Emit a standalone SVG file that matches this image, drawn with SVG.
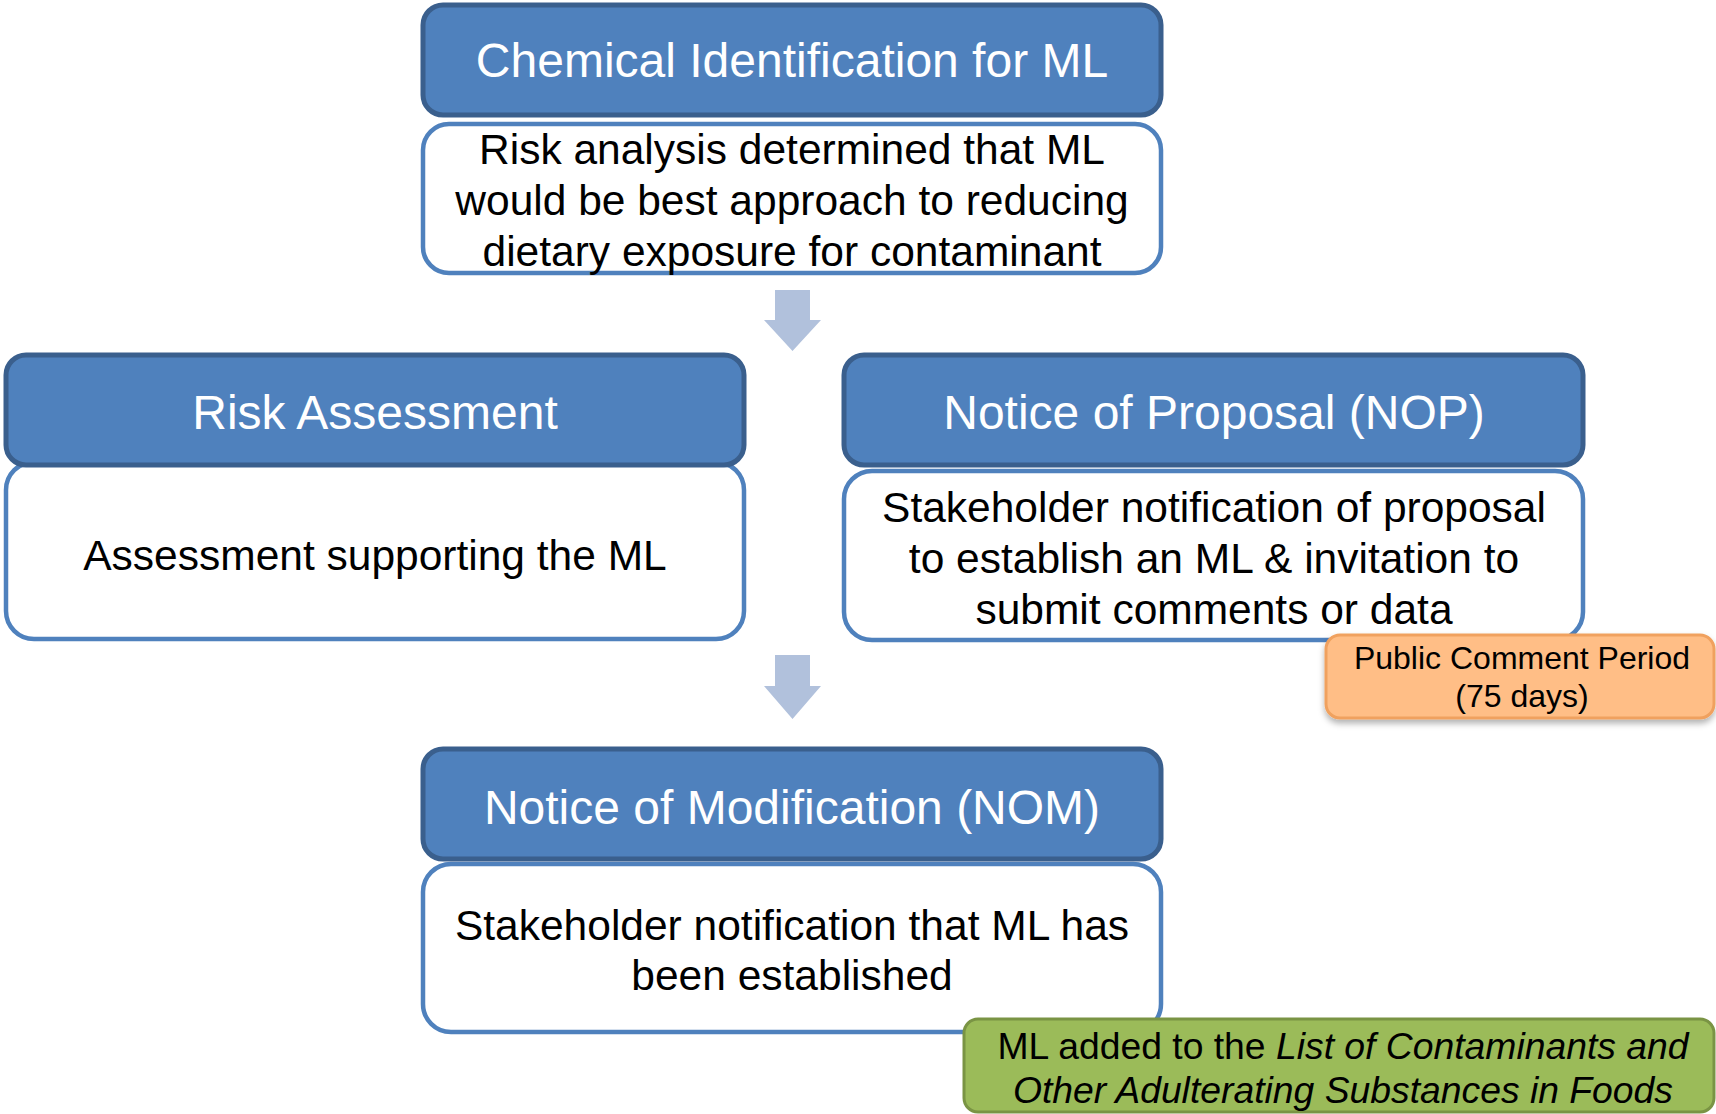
<svg xmlns="http://www.w3.org/2000/svg" width="1716" height="1114" viewBox="0 0 1716 1114">
<defs>
<style>
.hdr{fill:#4F81BD;stroke:#3A5F8D;stroke-width:5}
.body{fill:#FFFFFF;stroke:#4F81BD;stroke-width:4.5}
.ht{font-family:"Liberation Sans",Arial,sans-serif;font-size:48px;fill:#FFFFFF;text-anchor:middle}
.bt{font-family:"Liberation Sans",Arial,sans-serif;font-size:42.5px;fill:#000000;text-anchor:middle}
.arrow{fill:#B1C1DC}
.note{font-family:"Liberation Sans",Arial,sans-serif;fill:#000000;text-anchor:middle}
</style>
<filter id="sh" x="-10%" y="-20%" width="120%" height="150%">
<feDropShadow dx="0" dy="4" stdDeviation="3" flood-color="#000000" flood-opacity="0.3"/>
</filter>
</defs>
<rect width="1716" height="1114" fill="#FFFFFF"/>

<g id="connectors">
<path class="arrow" d="M775,290 H810 V320 H821 L792.5,351 L764,320 H775 Z"/>
<path class="arrow" d="M775,655 H810 V686 H821 L792.5,719 L764,686 H775 Z"/>
</g>

<g id="chem-id">
<rect class="body" x="423" y="124" width="738" height="149" rx="26"/>
<rect class="hdr" x="423" y="5" width="738" height="110" rx="20"/>
<text class="ht" x="792" y="77">Chemical Identification for ML</text>
<text class="bt" x="792" y="164">Risk analysis determined that ML</text>
<text class="bt" x="792" y="215">would be best approach to reducing</text>
<text class="bt" x="792" y="266">dietary exposure for contaminant</text>
</g>

<g id="risk-assessment">
<rect class="body" x="6" y="462" width="738" height="177" rx="28"/>
<rect class="hdr" x="6" y="355" width="738" height="110" rx="20"/>
<text class="ht" x="375" y="429">Risk Assessment</text>
<text class="bt" x="375" y="570">Assessment supporting the ML</text>
</g>

<g id="nop">
<rect class="body" x="844" y="471" width="739" height="169" rx="28"/>
<rect class="hdr" x="844" y="355" width="739" height="110" rx="20"/>
<text class="ht" x="1214" y="429">Notice of Proposal (NOP)</text>
<text class="bt" x="1214" y="522">Stakeholder notification of proposal</text>
<text class="bt" x="1214" y="573">to establish an ML &amp; invitation to</text>
<text class="bt" x="1214" y="624">submit comments or data</text>
</g>

<g id="public-comment">
<rect x="1326" y="635" width="388" height="83" rx="14" fill="#FFBE86" stroke="#F0A15E" stroke-width="3" filter="url(#sh)"/>
<text class="note" x="1522" y="669" font-size="32">Public Comment Period</text>
<text class="note" x="1522" y="707" font-size="32">(75 days)</text>
</g>

<g id="nom">
<rect class="body" x="423" y="864" width="738" height="168" rx="28"/>
<rect class="hdr" x="423" y="749" width="738" height="110" rx="20"/>
<text class="ht" x="792" y="824">Notice of Modification (NOM)</text>
<text class="bt" x="792" y="940">Stakeholder notification that ML has</text>
<text class="bt" x="792" y="990">been established</text>
</g>

<g id="list-note">
<rect x="964" y="1019" width="750" height="93" rx="14" fill="#9BBB59" stroke="#7A9444" stroke-width="3"/>
<text class="note" x="1343" y="1059" font-size="37.3">ML added to the <tspan font-style="italic">List of Contaminants and</tspan></text>
<text class="note" x="1343" y="1103" font-size="37.3" font-style="italic">Other Adulterating Substances in Foods</text>
</g>
</svg>
